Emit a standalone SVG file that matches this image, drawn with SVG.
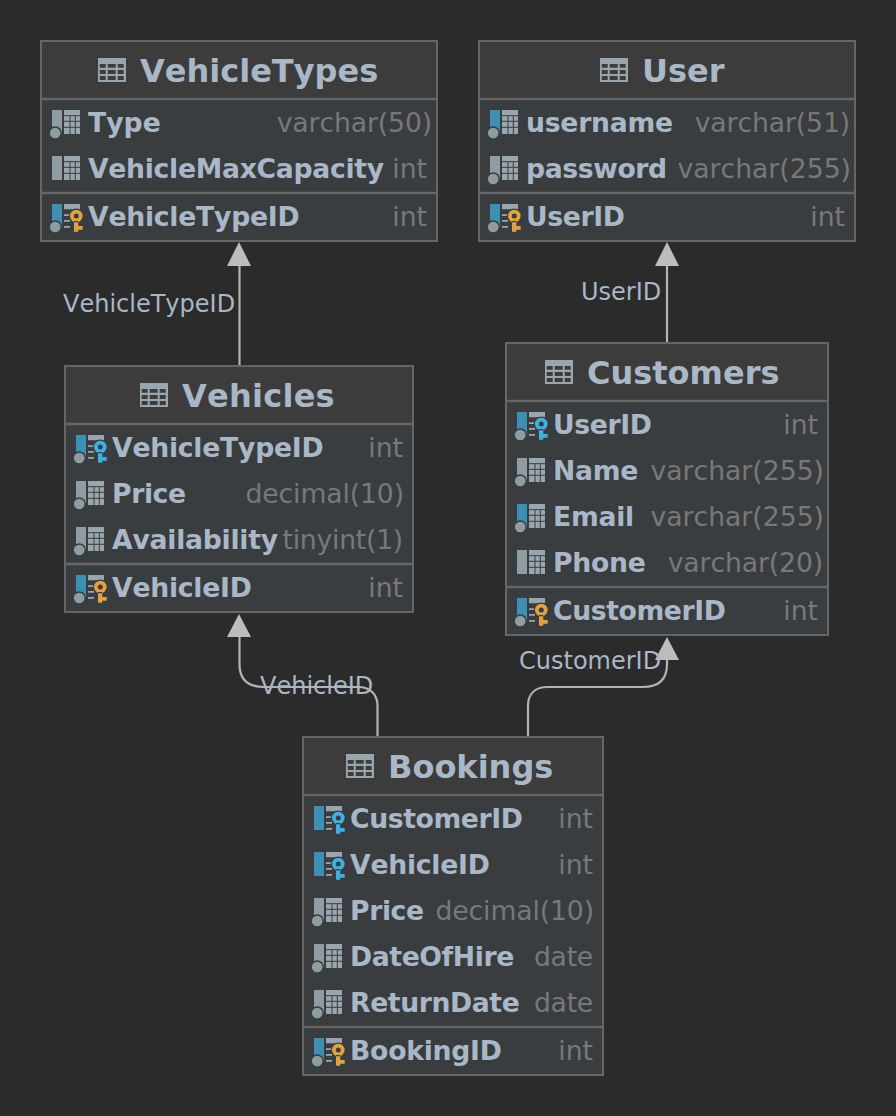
<svg xmlns="http://www.w3.org/2000/svg" width="896" height="1116" viewBox="0 0 896 1116">
<style>
text{font-family:"DejaVu Sans",sans-serif;font-kerning:none}
.t{font-size:32px;font-weight:700;fill:#a9b7c6}
.c{font-size:26.67px;font-weight:700;fill:#a9b7c6}
.y{font-size:26.67px;fill:#787878;text-anchor:end}
.l{font-size:24px;fill:#a9b7c6}
.s1{letter-spacing:-.25px}
.s2{letter-spacing:-.4px}
.s0{letter-spacing:-.12px}
.box{fill:#3a3d40;stroke:#666;stroke-width:2}
.hd{fill:#3c3c3c}
.dv{stroke:#666;stroke-width:2.5}
.cn{fill:none;stroke:#b3b3b3;stroke-width:2.200}
.ah{fill:#bdbdbd}
.g{fill:#8f9ca4}
.tg{fill:#9aa6ae}
.b{fill:#3d8fb3}
.gl{stroke:#3a3d40;stroke-width:1;fill:none}
</style>
<defs>
<g id="hicon"><path class="tg" fill-rule="evenodd" d="M0 0h28v24H0zM1.700 6v3.700h6V6zM9.700 6v3.700h8V6zM19.700 6v3.700h6V6zM1.700 12v4h6v-4zM9.700 12v4h8v-4zM19.700 12v4h6v-4zM1.700 18v4h6v-4zM9.700 18v4h8v-4zM19.700 18v4h6v-4z"/></g>
<g id="tb"><rect x="13" y="-12" width="16" height="24" class="tg"/><path d="M13-6.300H29M13-.7H29M13 5.300H29M19-6.300V12M24.300-6.300V12" class="gl"/></g>
<g id="dot"><circle cx="4.200" cy="11" r="6.800" fill="#3a3d40"/><circle cx="4.200" cy="11" r="5.300" class="g"/></g>
<path id="kb" class="tg" d="M13-12h16v5.300H13zM13-1.800h6v1.800h-6zM13 3.900h6v1.800h-6zM13 9.900h6v1.800h-6z"/>
<g id="key"><circle cx="25.300" cy="0" r="7.500" fill="#3a3d40"/><path fill-rule="evenodd" d="M19 0a6.300 6.300 0 1 0 12.600 0a6.300 6.300 0 1 0-12.600 0zM22.800 0a2.500 2.500 0 1 1 5 0a2.500 2.500 0 1 1-5 0zM23 5h4.300v5h4.400v3.800h-4.400V15.700H23z"/></g>
<g id="cg"><rect x="1" y="-12" width="10" height="24" class="g"/><use href="#tb"/><use href="#dot"/></g>
<g id="cn"><rect x="1" y="-12" width="10" height="24" class="g"/><use href="#tb"/></g>
<g id="cb"><rect x="1" y="-12" width="10" height="24" class="b"/><use href="#tb"/><use href="#dot"/></g>
<g id="pk"><rect x="1" y="-12" width="10" height="24" class="b"/><use href="#kb"/><use href="#dot"/><use href="#key" fill="#e2a33e"/></g>
<g id="fk"><rect x="1" y="-12" width="10" height="24" class="b"/><use href="#kb"/><use href="#dot"/><use href="#key" fill="#3fb0e0"/></g>
<g id="fkn"><rect x="1" y="-12" width="10" height="24" class="b"/><use href="#kb"/><use href="#key" fill="#3fb0e0"/></g>
</defs>
<rect width="896" height="1116" fill="#2b2b2b"/>
<g id="connectors">
<path class="cn" d="M239.500 366V262"/>
<path class="ah" d="M239 242l12 24h-24z"/>
<path class="cn" d="M667 343V262"/>
<path class="ah" d="M667 242l12 24h-24z"/>
<path class="cn" d="M377.500 737V706C377.500 694 370 687 358 687H264C248 687 239.500 680 239.500 664V630"/>
<path class="ah" d="M239 614l12 23h-24z"/>
<path class="cn" d="M528 737V706C528 694 535 687 548 687H643C659 687 667 680 667 664V654"/>
<path class="ah" d="M667 637l12 23h-24z"/>
<text class="l" x="63" y="312">VehicleTypeID</text>
<text class="l" x="581" y="300">UserID</text>
<text class="l" x="260" y="694">VehicleID</text>
<text class="l" x="519" y="669">CustomerID</text>
</g>
<g id="VehicleTypes">
<rect class="box" x="41" y="41" width="396" height="200"/><rect class="hd" x="42" y="42" width="394" height="57"/>
<path class="dv" d="M41 99H437M41 193H437"/>
<use href="#hicon" x="98" y="58"/><text class="t" x="140" y="82">VehicleTypes</text>
<use href="#cg" x="51" y="122"/><text class="c" x="88" y="132">Type</text><text class="y s0" x="432" y="132">varchar(50)</text>
<use href="#cn" x="51" y="168"/><text class="c s1" x="88" y="178" style="letter-spacing:-.3px">VehicleMaxCapacity</text><text class="y" x="427" y="178">int</text>
<use href="#pk" x="51" y="216"/><text class="c s1" x="88" y="226">VehicleTypeID</text><text class="y" x="427" y="226">int</text>
</g>
<g id="User">
<rect class="box" x="479" y="41" width="376" height="200"/><rect class="hd" x="480" y="42" width="374" height="57"/>
<path class="dv" d="M479 99H855M479 193H855"/>
<use href="#hicon" x="600" y="58"/><text class="t" x="642" y="82">User</text>
<use href="#cb" x="489" y="122"/><text class="c s1" x="526" y="132">username</text><text class="y s0" x="850" y="132">varchar(51)</text>
<use href="#cg" x="489" y="168"/><text class="c s2" x="526" y="178">password</text><text class="y" x="851" y="178">varchar(255)</text>
<use href="#pk" x="489" y="216"/><text class="c s2" x="526" y="226">UserID</text><text class="y" x="845" y="226">int</text>
</g>
<g id="Vehicles">
<rect class="box" x="65" y="366" width="348" height="246"/><rect class="hd" x="66" y="367" width="346" height="57"/>
<path class="dv" d="M65 424H413M65 564H413"/>
<use href="#hicon" x="140" y="383"/><text class="t" x="182" y="407" style="letter-spacing:.25px">Vehicles</text>
<use href="#fk" x="75" y="447"/><text class="c s1" x="112" y="457">VehicleTypeID</text><text class="y" x="403" y="457">int</text>
<use href="#cg" x="75" y="493"/><text class="c s2" x="112" y="503">Price</text><text class="y s0" x="404" y="503">decimal(10)</text>
<use href="#cg" x="75" y="539"/><text class="c s1" x="112" y="549">Availability</text><text class="y s1" x="403" y="549">tinyint(1)</text>
<use href="#pk" x="75" y="587"/><text class="c s1" x="112" y="597">VehicleID</text><text class="y" x="403" y="597">int</text>
</g>
<g id="Customers">
<rect class="box" x="506" y="343" width="322" height="292"/><rect class="hd" x="507" y="344" width="320" height="57"/>
<path class="dv" d="M506 401H828M506 587H828"/>
<use href="#hicon" x="545" y="360"/><text class="t" x="587" y="384">Customers</text>
<use href="#fk" x="516" y="424"/><text class="c s2" x="553" y="434">UserID</text><text class="y" x="818" y="434">int</text>
<use href="#cg" x="516" y="470"/><text class="c s1" x="553" y="480">Name</text><text class="y" x="824" y="480">varchar(255)</text>
<use href="#cb" x="516" y="516"/><text class="c s1" x="553" y="526">Email</text><text class="y" x="824" y="526">varchar(255)</text>
<use href="#cn" x="516" y="562"/><text class="c s1" x="553" y="572">Phone</text><text class="y s0" x="823" y="572">varchar(20)</text>
<use href="#pk" x="516" y="610"/><text class="c s2" x="553" y="620">CustomerID</text><text class="y" x="818" y="620">int</text>
</g>
<g id="Bookings">
<rect class="box" x="303" y="737" width="300" height="338"/><rect class="hd" x="304" y="738" width="298" height="57"/>
<path class="dv" d="M303 795H603M303 1027H603"/>
<use href="#hicon" x="346" y="754"/><text class="t" x="388" y="778">Bookings</text>
<use href="#fkn" x="313" y="818"/><text class="c s2" x="350" y="828">CustomerID</text><text class="y" x="593" y="828">int</text>
<use href="#fkn" x="313" y="864"/><text class="c s1" x="350" y="874">VehicleID</text><text class="y" x="593" y="874">int</text>
<use href="#cg" x="313" y="910"/><text class="c s2" x="350" y="920">Price</text><text class="y s0" x="594" y="920">decimal(10)</text>
<use href="#cg" x="313" y="956"/><text class="c s2" x="350" y="966">DateOfHire</text><text class="y s1" x="593" y="966">date</text>
<use href="#cg" x="313" y="1002"/><text class="c s2" x="350" y="1012">ReturnDate</text><text class="y s1" x="593" y="1012">date</text>
<use href="#pk" x="313" y="1050"/><text class="c s1" x="350" y="1060">BookingID</text><text class="y" x="593" y="1060">int</text>
</g>
</svg>
